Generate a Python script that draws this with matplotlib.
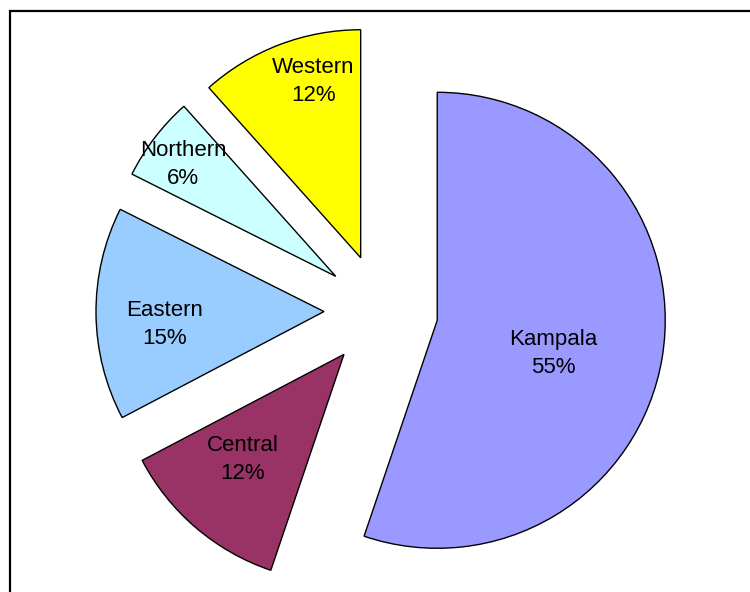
import numpy as np
import matplotlib.pyplot as plt

regions = ["Kampala", "Central", "Eastern", "Northern", "Western"]
shares = [55.2, 12.1, 15.1, 6.0, 11.6]
colors = ["#9999FF", "#993366", "#99CCFF", "#CCFFFF", "#FFFF00"]

# label placement inside each slice (fraction of radius, angle in degrees)
label_dist = [0.53, 0.64, 0.70, 0.83, 0.80]
label_ang = [-15.9, 226.0, 184.6, 143.8, 105.0]

W, H = 750, 592
fig = plt.figure(figsize=(W / 100, H / 100), dpi=100)
ax = fig.add_axes([0, 0, 1, 1])

R = 228
# explode is in data units, so scale it by the radius
wedges, _ = ax.pie(shares, colors=colors, startangle=90, counterclock=False,
                   explode=[0.25 * R] * len(shares), radius=R, center=(381, H - 311),
                   wedgeprops=dict(edgecolor="black", linewidth=1.0),
                   frame=True)
ax.set_xlim(0, W)
ax.set_ylim(0, H)
ax.set_aspect("equal")
ax.axis("off")

total = sum(shares)
for w, name, s, d, a in zip(wedges, regions, shares, label_dist, label_ang):
    cx, cy = w.center
    t = np.deg2rad(a)
    ax.text(cx + d * R * np.cos(t), cy + d * R * np.sin(t),
            f"{name}\n{round(100 * s / total):.0f}%",
            ha="center", va="center", fontsize=16, linespacing=1.45,
            family="Liberation Sans")

# chart frame (runs off the right and bottom edges)
ax.plot([10, 10, W + 10], [-10, H - 11, H - 11], color="black", lw=1.6,
        solid_joinstyle="miter", clip_on=False)

fig.savefig("out.png", dpi=100)
